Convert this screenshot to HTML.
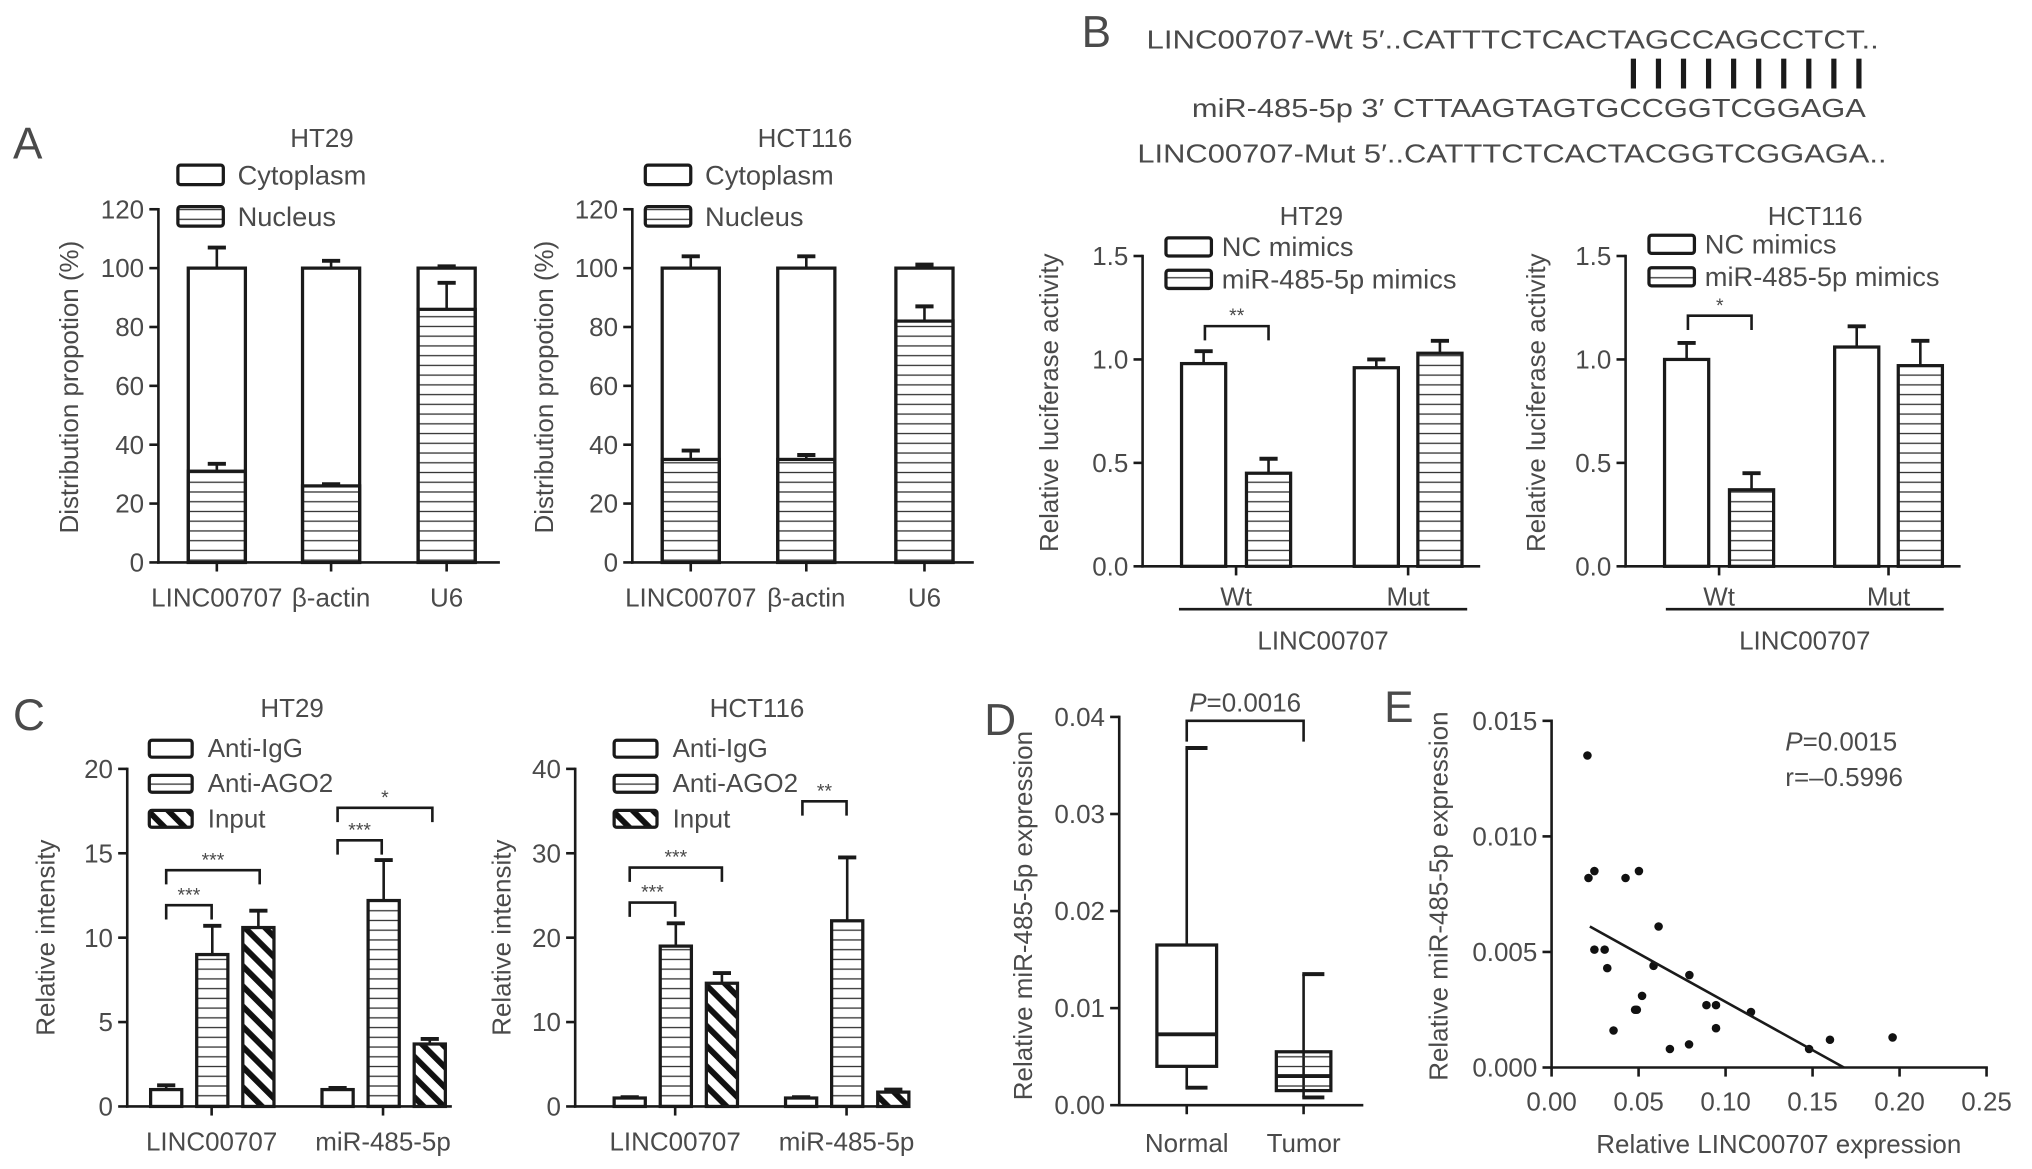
<!DOCTYPE html>
<html><head><meta charset="utf-8"><style>
html,body{margin:0;padding:0;background:#fff;}
svg{display:block;}
text{font-family:"Liberation Sans",sans-serif;fill:#4a4a4a;}
</style></head><body>
<svg id="fig" width="2032" height="1169" viewBox="0 0 1565 900" xmlns="http://www.w3.org/2000/svg">
<defs>
<pattern id="hz" patternUnits="userSpaceOnUse" width="10" height="7.5"><line x1="0" y1="3.75" x2="10" y2="3.75" stroke="#333" stroke-width="1"/></pattern>
<pattern id="dg" patternUnits="userSpaceOnUse" width="11" height="11" patternTransform="rotate(-45)"><rect x="0" y="0" width="11" height="11" fill="#fff"/><rect x="0" y="0" width="4.5" height="11" fill="#111"/></pattern>
</defs>
<g id="root"></g>
</svg>
<script>
// ---- Panel A data ----
var aCats=["LINC00707","β-actin","U6"];
var aHT29Nuc=[31,26,86], aHT29NucErr=[2.5,0.6,9];
var aHT29Tot=[100,100,100], aHT29TotErr=[7,2.5,0.6];
var aHCTNuc=[35,35,82], aHCTNucErr=[3,1.5,5];
var aHCTTot=[100,100,100], aHCTTotErr=[4,4,1.2];
var aTicks=[0,20,40,60,80,100,120];
// ---- Panel B data ----
var bCats=["Wt","Mut"];
var bHT29NC=[0.98,0.96], bHT29NCErr=[0.06,0.04];
var bHT29Mi=[0.45,1.03], bHT29MiErr=[0.07,0.06];
var bHCTNC=[1.0,1.06], bHCTNCErr=[0.08,0.1];
var bHCTMi=[0.37,0.97], bHCTMiErr=[0.08,0.12];
var bTicks=[0.0,0.5,1.0,1.5];
// ---- Panel C data ----
var cCats=["LINC00707","miR-485-5p"];
var cHT29IgG=[1.0,1.0], cHT29IgGErr=[0.25,0.1];
var cHT29AGO=[9.0,12.2], cHT29AGOErr=[1.7,2.4];
var cHT29Inp=[10.6,3.7], cHT29InpErr=[1.0,0.3];
var cHCTIgG=[1.0,1.0], cHCTIgGErr=[0.1,0.1];
var cHCTAGO=[19,22], cHCTAGOErr=[2.7,7.5];
var cHCTInp=[14.6,1.7], cHCTInpErr=[1.2,0.3];
var cHT29Ticks=[0,5,10,15,20], cHCTTicks=[0,10,20,30,40];
// ---- Panel D data ----
var dCats=["Normal","Tumor"];
var dMin=[0.0018,0.0008], dQ1=[0.004,0.0015], dMed=[0.0073,0.003], dQ3=[0.0165,0.0055], dMax=[0.0368,0.0135];
var dTicks=[0.00,0.01,0.02,0.03,0.04];
// ---- Panel E data ----
var eX=[0.0206,0.0212,0.0246,0.0425,0.0502,0.0246,0.0305,0.032,0.0615,0.0586,0.0792,0.052,0.048,0.049,0.0356,0.068,0.079,0.089,0.0945,0.0945,0.1146,0.148,0.160,0.196];
var eY=[0.0135,0.0082,0.0085,0.0082,0.0085,0.0051,0.0051,0.0043,0.0061,0.0044,0.0040,0.0031,0.0025,0.0025,0.0016,0.0008,0.0010,0.0027,0.0027,0.0017,0.0024,0.0008,0.0012,0.0013];
var eFitX=[0.022,0.168], eFitY=[0.0061,0.0];
var eXTicks=[0,0.05,0.10,0.15,0.20,0.25], eYTicks=[0,0.005,0.010,0.015];

var NS="http://www.w3.org/2000/svg";
var root=document.getElementById('root');
function el(tag,attrs,parent,txt){var e=document.createElementNS(NS,tag);for(var k in attrs)e.setAttribute(k,attrs[k]);if(txt!==undefined)e.textContent=txt;(parent||root).appendChild(e);return e;}
function line(x1,y1,x2,y2,p,w){return el('line',{x1:x1,y1:y1,x2:x2,y2:y2,stroke:'#1a1a1a','stroke-width':w||2},p);}
function txt(x,y,s,size,anchor,p,extra){var a={x:x,y:y,'font-size':size,'text-anchor':anchor||'start'};if(extra)for(var k in extra)a[k]=extra[k];return el('text',a,p,s);}
function scale(d0,d1,r0,r1){return function(v){return r0+(v-d0)*(r1-r0)/(d1-d0);};}
function errBar(x,yTop,yErr,p){line(x,yTop,x,yErr,p,2);line(x-7,yErr,x+7,yErr,p,3);}
function yAxis(g,x,y,ticks,yTop,fmt,size){line(x,y(ticks[0])+1,x,y(ticks[ticks.length-1])-1,g,2);ticks.forEach(function(t){line(x-7,y(t),x,y(t),g,2);txt(x-11,y(t)+7,fmt(t),size||20,'end',g);});}
function bracket(g,x1,x2,y,drop,label){el('path',{d:'M'+x1+' '+(y+drop)+'V'+y+'H'+x2+'V'+(y+drop),fill:'none',stroke:'#1a1a1a','stroke-width':2},g);txt((x1+x2)/2,y-3,label,15,'middle',g);}
function legendBox(g,x,y,w,h,fill,label,tx,size){var r=el('rect',{x:x,y:y,width:w,height:h,fill:fill,stroke:'#1a1a1a','stroke-width':2.5,rx:2},g);txt(tx,y+h,label,size||20,'start',g);}

// Panel letters
[["A",10,122],["B",833,36],["C",10,562],["D",758,566],["E",1066,556]].forEach(function(L){var t=txt(L[1],L[2],L[0],34,'start');});

// ---- Panel A ----
function panelA(name,ax,title,titleX,nuc,nucErr,tot,totErr,barX,ylabX,legX){
  var g=el('g',{});
  var y=scale(0,120,433,161);
  yAxis(g,ax,y,aTicks,0,function(t){return t;});
  line(ax-1,433,ax+263,433,g,2);
  txt(titleX,113,title,20,'middle',g);
  legendBox(g,legX,127,35,15,'#fff','Cytoplasm',legX+46,21);
  legendBox(g,legX,159,35,15,'url(#hz)','Nucleus',legX+46,21);
  txt(0,0,'Distribution propotion (%)',20,'middle',g,{transform:'translate('+ylabX+',298) rotate(-90)'});
  aCats.forEach(function(c,i){
    var x0=barX[i],w=44,cx=x0+w/2;
    var b1=el('rect',{x:x0,y:y(tot[i]),width:w,height:y(0)-y(tot[i]),fill:'#fff',stroke:'#1a1a1a','stroke-width':2.5},g);
    
    errBar(cx,y(tot[i]),y(tot[i]+totErr[i]),g);
    var b2=el('rect',{x:x0,y:y(nuc[i]),width:w,height:y(0)-y(nuc[i]),fill:'url(#hz)',stroke:'#1a1a1a','stroke-width':2.5},g);
    
    errBar(cx,y(nuc[i]),y(nuc[i]+nucErr[i]),g);
    line(cx,433,cx,440,g,2);
    txt(cx,467,c,20,'middle',g);
  });
}
panelA('chart-a-ht29',122,'HT29',248,aHT29Nuc,aHT29NucErr,aHT29Tot,aHT29TotErr,[145,233,322],60,137);
panelA('chart-a-hct116',487,'HCT116',620,aHCTNuc,aHCTNucErr,aHCTTot,aHCTTotErr,[510,599,690],426,497);

// ---- Panel B sequences ----
var seqG=el('g',{});
txt(883,37,'LINC00707-Wt  5′..CATTTCTCACTAGCCAGCCTCT..',20,'start',seqG,{textLength:564,lengthAdjust:'spacingAndGlyphs'});
for(var k=0;k<10;k++){line(1258+k*19.3,45,1258+k*19.3,68,seqG,4);}
txt(918,90,'miR-485-5p 3′ CTTAAGTAGTGCCGGTCGGAGA',20,'start',seqG,{textLength:519,lengthAdjust:'spacingAndGlyphs'});
txt(876,125,'LINC00707-Mut 5′..CATTTCTCACTACGGTCGGAGA..',20,'start',seqG,{textLength:577,lengthAdjust:'spacingAndGlyphs'});

function panelB(name,ax,title,titleX,nc,ncErr,mi,miErr,ncX,miX,brX1,brX2,brY,brLab,ylabX,legX,legY,grpX1,grpX2,axEnd){
  var g=el('g',{});
  var y=scale(0,1.5,436,197);
  yAxis(g,ax,y,bTicks,0,function(t){return t.toFixed(1);});
  line(ax-1,436,axEnd,436,g,2);
  txt(titleX,173,title,20,'middle',g);
  legendBox(g,legX,legY,35,14,'#fff','NC mimics',legX+43,21);
  legendBox(g,legX,legY+25,35,14,'url(#hz)','miR-485-5p mimics',legX+43,21);
  txt(0,0,'Relative luciferase activity',20,'middle',g,{transform:'translate('+ylabX+',310) rotate(-90)'});
  bCats.forEach(function(c,i){
    [[nc,ncErr,ncX,'#fff','nc'],[mi,miErr,miX,'url(#hz)','mimics']].forEach(function(s){
      var x0=s[2][i],w=34;
      var r=el('rect',{x:x0,y:y(s[0][i]),width:w,height:y(0)-y(s[0][i]),fill:s[3],stroke:'#1a1a1a','stroke-width':2.5},g);
      
      errBar(x0+w/2,y(s[0][i]),y(s[0][i]+s[1][i]),g);
    });
    var cx=(ncX[i]+miX[i]+34)/2;
    line(cx,436,cx,443,g,2);
    txt(cx,466,c,20,'middle',g);
  });
  line(grpX1,469,grpX2,469,g,2);
  txt((grpX1+grpX2)/2,500,'LINC00707',20,'middle',g);
  bracket(g,brX1,brX2,brY,11,brLab);
}
panelB('chart-b-ht29',880,'HT29',1010,bHT29NC,bHT29NCErr,bHT29Mi,bHT29MiErr,[910,1043],[960,1092],928,977,251,'**',815,898,183,908,1130,1140);
panelB('chart-b-hct116',1252,'HCT116',1398,bHCTNC,bHCTNCErr,bHCTMi,bHCTMiErr,[1282,1413],[1332,1462],1300,1349,243,'*',1190,1270,181,1283,1497,1510);

// ---- Panel C ----
function panelC(name,ax,title,titleX,maxV,ticks,igg,iggE,ago,agoE,inp,inpE,groupX,brs,ylabX,legX){
  var g=el('g',{});
  var y=scale(0,maxV,852,592);
  yAxis(g,ax,y,ticks,0,function(t){return t;});
  line(ax-1,852,ax+250,852,g,2);
  txt(titleX,552,title,20,'middle',g);
  legendBox(g,legX,570,33,13,'#fff','Anti-IgG',legX+45,20);
  legendBox(g,legX,597,33,13,'url(#hz)','Anti-AGO2',legX+45,20);
  legendBox(g,legX,624,33,13,'url(#dg)','Input',legX+45,20);
  txt(0,0,'Relative intensity',20,'middle',g,{transform:'translate('+ylabX+',722) rotate(-90)'});
  cCats.forEach(function(c,i){
    var sers=[[igg,iggE,'#fff','igg'],[ago,agoE,'url(#hz)','ago2'],[inp,inpE,'url(#dg)','input']];
    sers.forEach(function(s,j){
      var x0=groupX[i]+j*35.5,w=24;
      var r=el('rect',{x:x0,y:y(s[0][i]),width:w,height:y(0)-y(s[0][i]),fill:s[2],stroke:'#1a1a1a','stroke-width':2.5},g);
      
      errBar(x0+w/2,y(s[0][i]),y(s[0][i]+s[1][i]),g);
    });
    var cx=groupX[i]+47;
    line(cx,852,cx,859,g,2);
    txt(cx,886,c,20,'middle',g);
  });
  brs.forEach(function(b){bracket(g,b[0],b[1],b[2],11,b[3]);});
}
panelC('chart-c-ht29',98,'HT29',225,20,cHT29Ticks,cHT29IgG,cHT29IgGErr,cHT29AGO,cHT29AGOErr,cHT29Inp,cHT29InpErr,[116,248],[[128,163,697,'***'],[128,200,670,'***'],[260,294,647,'***'],[260,333,622,'*']],42,115);
panelC('chart-c-hct116',443,'HCT116',583,40,cHCTTicks,cHCTIgG,cHCTIgGErr,cHCTAGO,cHCTAGOErr,cHCTInp,cHCTInpErr,[473,605],[[485,520,695,'***'],[485,556,668,'***'],[618,652,617,'**']],393,473);

// ---- Panel D ----
(function(){
  var g=el('g',{});
  var y=scale(0,0.04,851,552);
  yAxis(g,862,y,dTicks,0,function(t){return t.toFixed(2);});
  line(861,851,1050,851,g,2);
  txt(0,0,'Relative miR-485-5p expression',20,'middle',g,{transform:'translate(795,705) rotate(-90)'});
  var cxs=[914,1004],ws=[46,42];
  dCats.forEach(function(c,i){
    var cx=cxs[i],w=ws[i];
    line(cx,y(dMin[i]),cx,y(dMax[i]),g,2);
    line(cx-1,y(dMax[i]),cx+16,y(dMax[i]),g,3);
    line(cx-1,y(dMin[i]),cx+16,y(dMin[i]),g,3);
    var r=el('rect',{x:cx-w/2,y:y(dQ3[i]),width:w,height:y(dQ1[i])-y(dQ3[i]),fill:i?'url(#hz)':'#fff',stroke:'#1a1a1a','stroke-width':2.5},g);
    
    line(cx-w/2,y(dMed[i]),cx+w/2,y(dMed[i]),g,3);
    line(cx,851,cx,858,g,2);
    txt(cx,887,c,20,'middle',g);
  });
  el('path',{d:'M914 571V555H1004V571',fill:'none',stroke:'#1a1a1a','stroke-width':2},g);
  var t=txt(959,548,'',20,'middle',g);
  t.innerHTML='<tspan font-style="italic">P</tspan>=0.0016';
})();

// ---- Panel E ----
(function(){
  var g=el('g',{});
  var x=scale(0,0.25,1195,1530), y=scale(0,0.015,822,555);
  yAxis(g,1195,y,eYTicks,0,function(t){return t.toFixed(3);});
  line(1194,822,1531,822,g,2);
  eXTicks.forEach(function(t){line(x(t),822,x(t),829,g,2);txt(x(t),855,t.toFixed(2),20,'middle',g);});
  txt(1370,888,'Relative LINC00707 expression',20,'middle',g);
  txt(0,0,'Relative miR-485-5p expression',20,'middle',g,{transform:'translate(1115,690) rotate(-90)'});
  eX.forEach(function(v,i){var c=el('circle',{cx:x(v),cy:y(eY[i]),r:3.3,fill:'#111'},g);});
  var fl=line(x(eFitX[0]),y(eFitY[0]),x(eFitX[1]),y(eFitY[1]),g,2);
  
  var t=txt(1375,578,'',20,'start',g);t.innerHTML='<tspan font-style="italic">P</tspan>=0.0015';
  txt(1375,605,'r=–0.5996',20,'start',g);
})();
</script>
</body></html>
